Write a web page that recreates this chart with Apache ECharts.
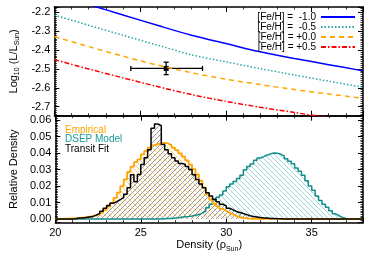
<!DOCTYPE html>
<html><head><meta charset="utf-8">
<script src="https://cdn.jsdelivr.net/npm/echarts@6/dist/echarts.min.js"></script>
<style>html,body{margin:0;padding:0;background:#fff}#c{width:374px;height:267px}</style>
</head><body><div id="c"></div>
<script>
// ---- data ----
const densityGrid = [20, 22, 24, 26, 28, 30, 32, 34, 36, 38];
const fehM10 = [-2.096, -2.157, -2.213, -2.268, -2.321, -2.365, -2.409, -2.444, -2.477, -2.510];
const fehM05 = [-2.214, -2.268, -2.321, -2.373, -2.425, -2.462, -2.498, -2.532, -2.565, -2.597];
const fehP00 = [-2.328, -2.381, -2.432, -2.479, -2.520, -2.554, -2.583, -2.609, -2.633, -2.656];
const fehP05 = [-2.450, -2.500, -2.547, -2.593, -2.636, -2.672, -2.703, -2.731, -2.758, -2.784];
const lineNames = ['[Fe/H] =  -1.0', '[Fe/H] =  -0.5', '[Fe/H] = +0.0', '[Fe/H] = +0.5'];

const measDensity = 26.52, measDensityLo = 24.46, measDensityHi = 28.64;
const measLum = -2.497, measLumLo = -2.530, measLumHi = -2.464;

const binWidth = 0.2;
const empiricalStart = 20.0;
const empirical = [0.0001,0.0001,0.0002,0.0003,0.0004,0.0005,0.0006,0.0008,0.0011,0.0014,
  0.0018,0.0024,0.0031,0.0042,0.0056,0.0075,0.0098,0.0128,0.0160,0.0200,
  0.0240,0.0285,0.0318,0.0345,0.0362,0.0392,0.0412,0.0432,0.0446,0.0454,
  0.0460,0.0462,0.0458,0.0448,0.0432,0.0418,0.0398,0.0378,0.0356,0.0330,
  0.0302,0.0270,0.0232,0.0190,0.0150,0.0118,0.0094,0.0078,0.0062,0.0050,
  0.0038,0.0028,0.0019,0.0012,0.0007,0.0004,0.0003,0.0002,0.0002,0.0001,
  0.0001,0.0001];
const transitStart = 20.0;
const transit = [0,0,0,0,0,0.0002,0.0006,0.0006,0.0009,0.0013,
  0.0016,0.0024,0.0035,0.0048,0.0066,0.0082,0.0096,0.0106,0.0118,0.0130,
  0.0150,0.0190,0.0268,0.0226,0.0270,0.0330,0.0372,0.0420,0.0550,0.0576,
  0.0565,0.0452,0.0420,0.0395,0.0372,0.0352,0.0336,0.0332,0.0318,0.0300,
  0.0268,0.0240,0.0212,0.0190,0.0160,0.0140,0.0120,0.0105,0.0090,0.0080,
  0.0066,0.0056,0.0046,0.0040,0.0034,0.0027,0.0020,0.0015,0.0012,0.0009,
  0.0007,0.0006,0.0004,0.0003,0.0002,0.0002,0.0001,0.0001,0.0001];
const dsepStart = 26.0;
const dsep = [0.0001,0.0002,0.0003,0.0004,0.0006,0.0008,0.0011,0.0014,0.0016,0.0019,
  0.0023,0.0028,0.0036,0.0048,0.0068,0.0090,0.0115,0.0132,0.0145,0.0170,
  0.0196,0.0212,0.0228,0.0246,0.0266,0.0298,0.0318,0.0334,0.0356,0.0370,
  0.0378,0.0388,0.0395,0.0400,0.0398,0.0392,0.0382,0.0366,0.0350,0.0335,
  0.0310,0.0290,0.0265,0.0232,0.0200,0.0175,0.0140,0.0112,0.0090,0.0072,
  0.0050,0.0032,0.0020,0.0010,0.0004,0.0001];
const histNames = ['Empirical', 'DSEP Model', 'Transit Fit'];
const xTicks = ['20', '25', '30', '35'];

// ---- chart ----
const FONT = 'Liberation Sans, Arial, sans-serif';
const X_MIN = 20, X_MAX = 38;

function hatch(color, dir, s) {
  const c = document.createElement('canvas'); c.width = s; c.height = s;
  const g = c.getContext('2d'); g.fillStyle = color;
  for (let i = 0; i < s; i++) { const x = dir === 'back' ? i : s - 1 - i; g.fillRect(x, i, 1, 1); }
  return { image: c, repeat: 'repeat' };
}
function histPoints(start, vals) {
  const pts = [];
  if (start > X_MIN) pts.push([X_MIN, 0]);
  vals.forEach((v, i) => pts.push([+(start + i * binWidth).toFixed(3), v]));
  const end = +(start + vals.length * binWidth).toFixed(3);
  pts.push([end, 0]);
  if (end < X_MAX) pts.push([X_MAX, 0]);
  return pts;
}
const pair = arr => densityGrid.map((d, i) => [d, arr[i]]);

const frame = { show: true, onZero: false, lineStyle: { color: '#000', width: 1.5 } };
const tickIn = { show: true, inside: true, length: 5, lineStyle: { color: '#000', width: 1 } };
function minor(n) { return { show: true, splitNumber: n, length: 2.5, lineStyle: { color: '#000', width: 0.8 } }; }

const subRich = { s: { fontSize: 7, fontFamily: FONT, color: '#000', padding: [7, 0, 0, 0] } };

function xAx(grid, pos, labels, extra) {
  return Object.assign({
    type: 'value', gridIndex: grid, position: pos, min: X_MIN, max: X_MAX, interval: 5,
    axisLine: frame, axisTick: tickIn, minorTick: minor(5), splitLine: { show: false },
    axisLabel: labels ? { show: true, fontSize: 11, fontFamily: FONT, color: '#000', margin: 5,
      formatter: v => xTicks.includes(String(v)) ? String(v) : '' } : { show: false }
  }, extra || {});
}
function yAx(grid, pos, min, max, labels, extra) {
  return Object.assign({
    type: 'value', gridIndex: grid, position: pos, min: min, max: max, splitNumber: 5,
    axisLine: frame, axisTick: tickIn, minorTick: minor(10), splitLine: { show: false },
    axisLabel: labels ? Object.assign({ show: true, fontSize: 11, fontFamily: FONT, color: '#000', margin: 4,
      showMinLabel: false, showMaxLabel: false }, labels) : { show: false }
  }, extra || {});
}

const chart = echarts.init(document.getElementById('c'), null, { renderer: 'canvas' });
chart.setOption({
  animation: false,
  backgroundColor: '#fff',
  grid: [
    { left: 51, right: 11, top: 7, height: 108.7 },
    { left: 51, right: 11, top: 115.7, height: 107 }
  ],
  xAxis: [
    xAx(0, 'bottom', false),
    xAx(0, 'top', false),
    xAx(1, 'bottom', true, { name: 'Density (ρ{s|Sun})', nameLocation: 'middle', nameGap: 15,
      nameTextStyle: { fontSize: 11, fontFamily: FONT, color: '#000', rich: subRich } }),
    xAx(1, 'top', false)
  ],
  yAxis: [
    yAx(0, 'left', -2.748, -2.171, { formatter: v => v.toFixed(1) }, { name: 'Log{s|10} (L/L{s|Sun})',
      nameLocation: 'middle', nameGap: 23, nameRotate: 90,
      nameTextStyle: { fontSize: 11, fontFamily: FONT, color: '#000', rich: subRich } }),
    yAx(0, 'right', -2.748, -2.171, false),
    yAx(1, 'left', -0.0022, 0.0626, { formatter: v => v.toFixed(2) }, { name: 'Relative Density',
      nameLocation: 'middle', nameGap: 26, nameRotate: 90,
      nameTextStyle: { fontSize: 11, fontFamily: FONT, color: '#000' } }),
    yAx(1, 'right', -0.0022, 0.0626, false)
  ],
  legend: {
    data: lineNames, orient: 'vertical', right: 18, top: 12, align: 'right',
    itemWidth: 34, itemHeight: 2, itemGap: 0, padding: 0,
    itemStyle: { opacity: 0, color: 'rgba(0,0,0,0)', borderWidth: 0 },
    textStyle: { fontSize: 10, fontFamily: FONT, color: '#000', lineHeight: 9.3 },
    selectedMode: false
  },
  graphic: [
    { type: 'text', left: 65, top: 125.5, style: { text: histNames[0], fill: '#FFA500', font: '10px ' + FONT } },
    { type: 'text', left: 65, top: 134.7, style: { text: histNames[1], fill: '#1a9a9a', font: '10px ' + FONT } },
    { type: 'text', left: 65, top: 143.9, style: { text: histNames[2], fill: '#000', font: '10px ' + FONT } }
  ],
  series: [
    { name: lineNames[0], type: 'line', xAxisIndex: 0, yAxisIndex: 0, data: pair(fehM10), smooth: 0.3,
      symbol: 'none', lineStyle: { color: '#0000FF', width: 1.5 }, itemStyle: { color: '#0000FF' } },
    { name: lineNames[1], type: 'line', xAxisIndex: 0, yAxisIndex: 0, data: pair(fehM05), smooth: 0.3,
      symbol: 'none', lineStyle: { color: '#2aa6a6', width: 1.5, type: [1.5, 2] }, itemStyle: { color: '#2aa6a6' } },
    { name: lineNames[2], type: 'line', xAxisIndex: 0, yAxisIndex: 0, data: pair(fehP00), smooth: 0.3,
      symbol: 'none', lineStyle: { color: '#FFA500', width: 1.5, type: [5, 4] }, itemStyle: { color: '#FFA500' } },
    { name: lineNames[3], type: 'line', xAxisIndex: 0, yAxisIndex: 0, data: pair(fehP05), smooth: 0.3,
      symbol: 'none', lineStyle: { color: '#FF0000', width: 1.5, type: [5, 2, 1.5, 2] }, itemStyle: { color: '#FF0000' } },
    { type: 'custom', xAxisIndex: 0, yAxisIndex: 0,
      data: [[measDensity, measLum, measDensityLo, measDensityHi, measLumLo, measLumHi]],
      renderItem: function (params, api) {
        const c = api.coord([api.value(0), api.value(1)]);
        const l = api.coord([api.value(2), api.value(1)]);
        const r = api.coord([api.value(3), api.value(1)]);
        const b = api.coord([api.value(0), api.value(4)]);
        const t = api.coord([api.value(0), api.value(5)]);
        const st = { stroke: '#000', lineWidth: 1.3 };
        return { type: 'group', children: [
          { type: 'line', shape: { x1: l[0], y1: l[1], x2: r[0], y2: r[1] }, style: st },
          { type: 'line', shape: { x1: l[0], y1: l[1] - 2.5, x2: l[0], y2: l[1] + 2.5 }, style: st },
          { type: 'line', shape: { x1: r[0], y1: r[1] - 2.5, x2: r[0], y2: r[1] + 2.5 }, style: st },
          { type: 'line', shape: { x1: b[0], y1: b[1], x2: t[0], y2: t[1] }, style: st },
          { type: 'line', shape: { x1: b[0] - 2.5, y1: b[1], x2: b[0] + 2.5, y2: b[1] }, style: st },
          { type: 'line', shape: { x1: t[0] - 2.5, y1: t[1], x2: t[0] + 2.5, y2: t[1] }, style: st },
          { type: 'rect', shape: { x: c[0] - 2.5, y: c[1] - 2.5, width: 5, height: 5 }, style: { fill: '#000' } }
        ] };
      }
    },
    { name: histNames[1], type: 'line', xAxisIndex: 2, yAxisIndex: 2, step: 'end', symbol: 'none',
      data: histPoints(dsepStart, dsep),
      lineStyle: { color: '#0f8c8c', width: 1.5 },
      areaStyle: { color: hatch('#9ad6d6', 'back', 5), opacity: 1, origin: 0 } },
    { name: histNames[0], type: 'line', xAxisIndex: 2, yAxisIndex: 2, step: 'end', symbol: 'none',
      data: histPoints(empiricalStart, empirical),
      lineStyle: { color: '#FFA500', width: 1.8 },
      areaStyle: { color: hatch('#ffcf80', 'back', 5), opacity: 1, origin: 0 } },
    { name: histNames[2], type: 'line', xAxisIndex: 2, yAxisIndex: 2, step: 'end', symbol: 'none',
      data: histPoints(transitStart, transit),
      lineStyle: { color: '#000', width: 1.5 },
      areaStyle: { color: hatch('#999999', 'fwd', 5), opacity: 1, origin: 0 } }
  ]
});
</script></body></html>
